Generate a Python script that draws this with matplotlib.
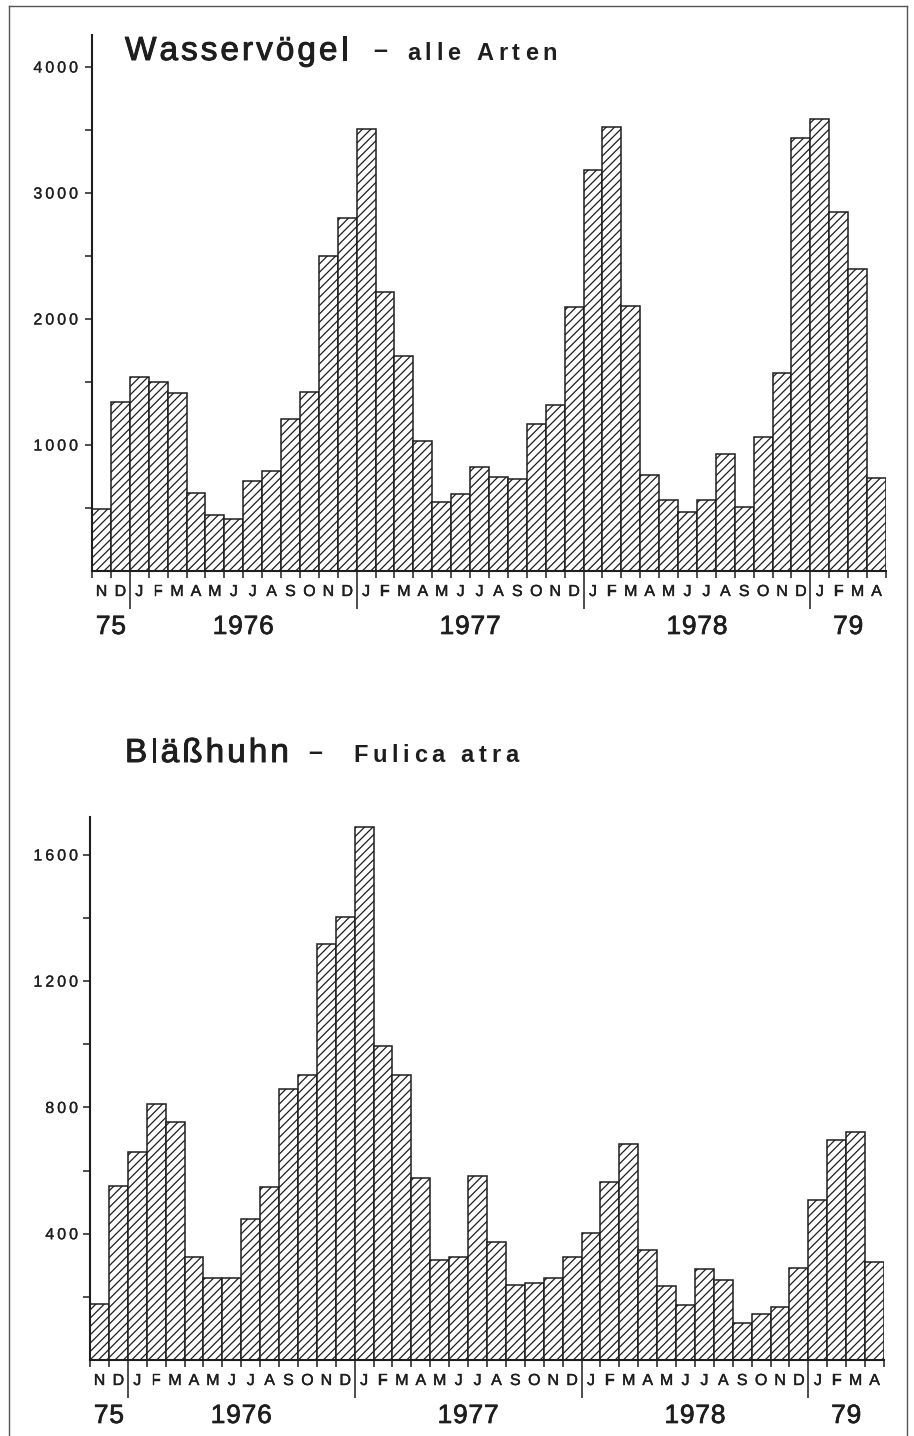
import numpy as np
import matplotlib
matplotlib.use('Agg')
import matplotlib.pyplot as plt
import matplotlib.patheffects as pe
from matplotlib.font_manager import FontProperties, findfont, get_font
from matplotlib.transforms import IdentityTransform
from matplotlib.lines import Line2D

W, H, DPI = 914, 1436, 100
FAM = 'Liberation Sans'
INK = '#1e1e1e'

# data (monthly counts Nov 1975 - Apr 1979)
months = ['N', 'D'] + list('JFMAMJJASOND') * 3 + ['J', 'F', 'M', 'A']
years = ['75', '1976', '1977', '1978', '79']
year_len = [2, 12, 12, 12, 4]

wasser = [490, 1340, 1540, 1500, 1410, 620, 445, 410, 715, 795, 1205, 1420,
          2500, 2800, 3510, 2215, 1705, 1035, 545, 610, 825, 745, 730, 1170, 1315, 2095,
          3185, 3525, 2105, 760, 565, 465, 565, 930, 505, 1060, 1570, 3435,
          3585, 2850, 2400, 738]
wasser_ticks = [1000, 2000, 3000, 4000]
wasser_minor = [500, 1500, 2500, 3500]

bless = [177, 551, 658, 811, 753, 327, 261, 261, 446, 549, 857, 902,
         1317, 1404, 1687, 995, 902, 575, 317, 325, 584, 373, 237, 243, 259, 327,
         401, 565, 684, 350, 234, 174, 288, 253, 118, 145, 169, 290,
         507, 697, 723, 311]
bless_ticks = [400, 800, 1200, 1600]
bless_minor = [200, 600, 1000, 1400]

plt.rcParams['hatch.linewidth'] = 0.9
plt.rcParams['font.family'] = [FAM, 'DejaVu Sans']

fig = plt.figure(figsize=(W / DPI, H / DPI), dpi=DPI)
fig.patch.set_facecolor('white')


def heavy(w):
    # thicken the strokes a bit (the original uses a medium weight face)
    return [pe.withStroke(linewidth=w, foreground=INK)]


def tracked(x, y, s, size, weight='normal', track=0.0, ha='left', va='baseline', stroke=0.0):
    # draw text letter by letter with extra spacing; x, y in display pixels
    font = get_font(findfont(FontProperties(family=FAM, weight=weight)))
    font.set_size(size, DPI)
    advs = [font.load_char(ord(c)).linearHoriAdvance / 65536 for c in s]
    total = sum(advs) + track * (len(s) - 1)
    if ha == 'center':
        x = x - total / 2
    elif ha == 'right':
        x = x - total
    for c, a in zip(s, advs):
        if c != ' ':
            t = fig.text(x, y, c, fontsize=size, weight=weight, color=INK,
                         ha='left', va=va, transform=IdentityTransform())
            if stroke:
                t.set_path_effects(heavy(stroke))
        x += a + track


def panel(rect, vals, ymax, ticks, minor):
    ax = fig.add_axes(rect)
    n = len(vals)
    ax.bar(np.arange(n), vals, width=1.0, align='edge', facecolor='white',
           edgecolor=INK, hatch='////', linewidth=1.1)
    ax.set_xlim(0, n)
    ax.set_ylim(0, ymax)
    for s in ['top', 'right']:
        ax.spines[s].set_visible(False)
    for s in ['left', 'bottom']:
        ax.spines[s].set_linewidth(1.5)
        ax.spines[s].set_color(INK)
    jan = np.cumsum(year_len)[:-1]
    ax.set_xticks(jan)
    ax.set_xticks(np.arange(n + 1), minor=True)
    ax.set_yticks(ticks)
    ax.set_yticks(minor, minor=True)
    ax.tick_params(which='both', labelbottom=False, labelleft=False,
                   color=INK, width=1.1, direction='out')
    ax.tick_params(axis='x', which='major', length=27)
    ax.tick_params(axis='x', which='minor', length=4.7)
    ax.tick_params(axis='y', which='both', length=5)

    # y tick labels
    for v in ticks:
        yd = ax.transData.transform((0, v))[1]
        tracked(78, yd - 5.5, str(v), 11.5, track=3.0, ha='right', stroke=0.2)
    # month letters
    base = ax.transData.transform((0, 0))[1]
    for i, m in enumerate(months):
        xd = ax.transData.transform((i + 0.5, 0))[0]
        t = fig.text(xd, base - 25, m, fontsize=11.5, color=INK, ha='center',
                     va='baseline', transform=IdentityTransform())
        t.set_path_effects(heavy(0.3))
    # year labels
    start = 0
    for y, l in zip(years, year_len):
        xd = ax.transData.transform((start + l / 2, 0))[0]
        tracked(xd, base - 63, y, 19, track=0.8, ha='center', stroke=0.5)
        start += l
    return ax


panel([92 / W, 1 - 571 / H, 794 / W, 536 / H], wasser, 4254, wasser_ticks, wasser_minor)
panel([90 / W, 1 - 1360 / H, 794 / W, 543 / H], bless, 1720, bless_ticks, bless_minor)

# titles
tracked(125, H - 60, 'Wasservögel', 24, track=3.0, stroke=0.7)
tracked(373, H - 58, '–', 18, weight='bold')
tracked(407, H - 60, 'alle Arten', 17, weight='bold', track=4.7)
tracked(125, H - 762, 'Bläßhuhn', 24, track=3.0, stroke=0.7)
tracked(308, H - 760, '–', 18, weight='bold')
tracked(353, H - 762, 'Fulica atra', 17, weight='bold', track=4.7)

# page frame
fc = '#555555'
fig.add_artist(Line2D([9 / W, 9 / W], [0, 1 - 6 / H], color=fc, lw=1.0))
fig.add_artist(Line2D([9 / W, 907 / W], [1 - 6 / H, 1 - 6 / H], color=fc, lw=1.0))
fig.add_artist(Line2D([907 / W, 907 / W], [0, 1 - 6 / H], color=fc, lw=1.0))

fig.savefig('out.png', dpi=DPI)
